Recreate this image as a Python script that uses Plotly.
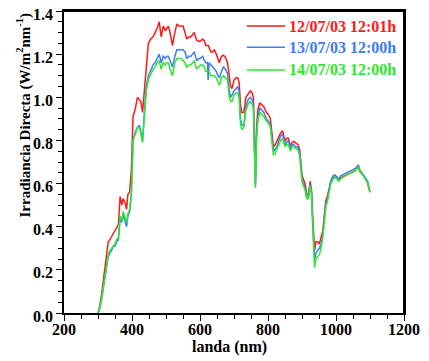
import plotly.graph_objects as go

wavelength = [300, 305, 310, 315, 320, 325, 330, 335, 340, 345, 350, 355, 360, 365, 370, 374, 380, 384, 388, 393, 398,
              403, 410, 416, 422, 426, 431, 436, 442, 448, 455, 462, 468, 474, 480, 486, 492, 498, 503, 507, 512, 519,
              526, 532, 538, 544, 550, 556, 561, 567, 573, 578, 583, 590, 596, 601, 608, 613, 617, 622, 624, 627, 632,
              637, 642, 648, 653, 657, 663, 669, 675, 681, 686, 690, 694, 700, 706, 711, 715, 719, 723, 729, 735, 742,
              748, 753, 757, 760, 763, 766, 770, 776, 782, 788, 795, 801, 807, 812, 816, 821, 826, 832, 837, 843, 847,
              850, 855, 860, 866, 871, 876, 882, 888, 893, 897, 900, 904, 909, 914, 919, 924, 928, 931, 934, 937, 941,
              946, 951, 956, 961, 966, 970, 975, 980, 985, 991, 997, 1003, 1008, 1013, 1019, 1025, 1032, 1038, 1045,
              1051, 1057, 1062, 1066, 1070, 1076, 1082, 1088, 1093, 1098, 1100]

irr_12 = [0.0, 0.03, 0.08, 0.14, 0.2, 0.26, 0.33, 0.34, 0.355, 0.37, 0.38, 0.4, 0.41, 0.54, 0.5, 0.53, 0.51, 0.48, 0.55,
          0.56, 0.66, 0.91, 0.95, 1.0, 0.99, 0.98, 0.93, 1.02, 1.15, 1.25, 1.27, 1.28, 1.3, 1.32, 1.35, 1.28, 1.33, 1.31,
          1.32, 1.33, 1.3, 1.24, 1.3, 1.34, 1.33, 1.33, 1.33, 1.3, 1.27, 1.28, 1.28, 1.29, 1.3, 1.265, 1.26, 1.26, 1.27,
          1.26, 1.24, 1.24, 1.24, 1.23, 1.21, 1.21, 1.22, 1.2, 1.18, 1.16, 1.19, 1.195, 1.185, 1.16, 1.1, 1.05, 1.04,
          1.08, 1.09, 1.09, 1.07, 0.97, 0.93, 0.93, 1.0, 1.02, 1.03, 1.02, 1.0, 0.8, 0.6, 0.85, 0.94, 0.975, 0.965,
          0.955, 0.93, 0.92, 0.9, 0.83, 0.77, 0.78, 0.795, 0.82, 0.835, 0.845, 0.82, 0.795, 0.81, 0.81, 0.775, 0.79,
          0.795, 0.785, 0.78, 0.76, 0.7, 0.64, 0.62, 0.6, 0.55, 0.55, 0.61, 0.57, 0.46, 0.34, 0.29, 0.33, 0.33, 0.32,
          0.35, 0.38, 0.46, 0.52, 0.545, 0.58, 0.61, 0.625, 0.63, 0.625, 0.615, 0.625, 0.63, 0.635, 0.64, 0.645, 0.65,
          0.655, 0.66, 0.67, 0.675, 0.655, 0.645, 0.635, 0.62, 0.6, 0.57, 0.56]

irr_13 = [0.0, 0.02, 0.06, 0.11, 0.16, 0.21, 0.26, 0.28, 0.29, 0.31, 0.31, 0.33, 0.34, 0.44, 0.42, 0.46, 0.43, 0.4, 0.45,
          0.47, 0.55, 0.8, 0.84, 0.86, 0.87, 0.84, 0.8, 0.92, 1.05, 1.1, 1.13, 1.15, 1.16, 1.18, 1.2, 1.16, 1.19, 1.18,
          1.19, 1.19, 1.17, 1.14, 1.19, 1.22, 1.22, 1.22, 1.22, 1.21, 1.18, 1.19, 1.19, 1.2, 1.21, 1.17, 1.18, 1.18,
          1.19, 1.17, 1.16, 1.16, 1.08, 1.16, 1.15, 1.14, 1.13, 1.12, 1.1, 1.09, 1.12, 1.14, 1.13, 1.11, 1.03, 1.0,
          1.01, 1.03, 1.04, 1.05, 1.03, 0.9, 0.87, 0.87, 0.96, 0.99, 1.0, 0.99, 0.97, 0.78, 0.59, 0.82, 0.91, 0.95,
          0.94, 0.93, 0.9, 0.89, 0.87, 0.8, 0.75, 0.76, 0.77, 0.8, 0.82, 0.83, 0.8, 0.78, 0.79, 0.8, 0.76, 0.78, 0.78,
          0.77, 0.77, 0.745, 0.68, 0.62, 0.6, 0.58, 0.54, 0.54, 0.6, 0.56, 0.44, 0.29, 0.24, 0.28, 0.29, 0.3, 0.32,
          0.36, 0.44, 0.5, 0.53, 0.58, 0.615, 0.635, 0.64, 0.63, 0.62, 0.635, 0.64, 0.645, 0.65, 0.655, 0.66, 0.665,
          0.67, 0.68, 0.685, 0.665, 0.65, 0.64, 0.625, 0.61, 0.575, 0.565]

irr_14 = [0.0, 0.02, 0.06, 0.11, 0.17, 0.22, 0.27, 0.29, 0.3, 0.31, 0.32, 0.34, 0.35, 0.45, 0.43, 0.47, 0.44, 0.42, 0.46,
          0.48, 0.55, 0.8, 0.83, 0.86, 0.86, 0.83, 0.79, 0.9, 1.03, 1.08, 1.11, 1.13, 1.14, 1.16, 1.17, 1.13, 1.16, 1.15,
          1.16, 1.16, 1.13, 1.1, 1.16, 1.18, 1.18, 1.18, 1.17, 1.16, 1.14, 1.15, 1.15, 1.16, 1.17, 1.13, 1.14, 1.15,
          1.15, 1.14, 1.12, 1.12, 1.12, 1.12, 1.1, 1.1, 1.1, 1.09, 1.07, 1.055, 1.09, 1.1, 1.09, 1.08, 1.0, 0.98, 0.98,
          1.01, 1.02, 1.02, 1.0, 0.88, 0.85, 0.86, 0.94, 0.97, 0.98, 0.97, 0.95, 0.76, 0.58, 0.8, 0.89, 0.93, 0.92,
          0.91, 0.89, 0.88, 0.86, 0.79, 0.73, 0.74, 0.76, 0.78, 0.8, 0.81, 0.79, 0.77, 0.78, 0.78, 0.75, 0.77, 0.77,
          0.76, 0.755, 0.73, 0.67, 0.61, 0.59, 0.57, 0.53, 0.53, 0.59, 0.55, 0.42, 0.26, 0.21, 0.25, 0.26, 0.27, 0.3,
          0.35, 0.43, 0.49, 0.52, 0.57, 0.6, 0.62, 0.63, 0.62, 0.61, 0.62, 0.63, 0.635, 0.64, 0.645, 0.65, 0.655, 0.66,
          0.67, 0.675, 0.66, 0.645, 0.635, 0.62, 0.605, 0.57, 0.56]

series_names = ["12/07/03 12:01h", "13/07/03 12:00h", "14/07/03 12:00h"]
series_colors = ["#ff1a1a", "#3d7df5", "#2ee82e"]
x_ticks = [200, 400, 600, 800, 1000, 1200]
y_ticks = [0.0, 0.2, 0.4, 0.6, 0.8, 1.0, 1.2, 1.4]

FONT = "Liberation Serif"

fig = go.Figure()
for vals, name, col in zip([irr_12, irr_13, irr_14], series_names, series_colors):
    fig.add_trace(go.Scatter(x=wavelength, y=vals, mode="lines", name=name,
                             line=dict(color=col, width=1.5), showlegend=False))

# frame around the plotting area (top and right edges; left/bottom are the axis lines)
fig.add_shape(type="line", xref="paper", yref="paper", x0=0, x1=1, y0=1, y1=1,
              line=dict(color="black", width=2), layer="above")
fig.add_shape(type="line", xref="paper", yref="paper", x0=1, x1=1, y0=0, y1=1,
              line=dict(color="black", width=2), layer="above")

# legend built by hand (coloured text)
leg_y = [0.950, 0.880, 0.805]
for name, col, yy in zip(series_names, series_colors, leg_y):
    fig.add_shape(type="line", xref="paper", yref="paper", x0=0.538, x1=0.65, y0=yy, y1=yy,
                  line=dict(color=col, width=1.5))
    fig.add_annotation(xref="paper", yref="paper", x=0.66, y=yy, xanchor="left", yanchor="middle",
                       text="<b>%s</b>" % name, showarrow=False, borderpad=0,
                       font=dict(family=FONT, size=16, color=col))

fig.add_annotation(xref="paper", yref="paper", x=-0.118, y=0.657, textangle=-90,
                   xanchor="center", yanchor="middle", showarrow=False,
                   text="<b>Irradiancia Directa (W/m<sup>2</sup>nm<sup>-1</sup>)</b>",
                   font=dict(family=FONT, size=15, color="black"))
fig.add_annotation(xref="paper", yref="paper", x=0.488, y=-0.112,
                   xanchor="center", yanchor="middle", showarrow=False,
                   text="<b>landa (nm)</b>",
                   font=dict(family=FONT, size=16, color="black"))

axis_common = dict(showgrid=False, zeroline=False, showline=True, linecolor="black", linewidth=1.5,
                   mirror=True, ticks="outside", ticklen=6, tickwidth=1.2, tickcolor="black",
                   automargin=False, ticklabeloverflow="allow",
                   tickfont=dict(family=FONT, size=16, color="black"))

fig.update_xaxes(range=[200, 1200], tickvals=x_ticks, ticktext=["<b>%d</b>" % v for v in x_ticks],
                 ticklabelstandoff=-5,
                 minor=dict(dtick=50, tick0=200, ticks="outside", ticklen=4, tickcolor="black", tickwidth=1.2),
                 **axis_common)
fig.update_yaxes(range=[0, 1.4], tickvals=y_ticks, ticktext=["<b>%.1f</b>" % v for v in y_ticks],
                 ticklabelshift=3,
                 minor=dict(dtick=0.05, tick0=0, ticks="outside", ticklen=4, tickcolor="black", tickwidth=1.2),
                 **axis_common)

# page body has an 8px margin, so the figure is sized and offset to land on the reference pixels
fig.update_layout(width=421, height=353, margin=dict(l=56, r=25, t=3, b=48),
                  paper_bgcolor="white", plot_bgcolor="white",
                  font=dict(family=FONT, color="black"))

fig.write_html("out.html")
